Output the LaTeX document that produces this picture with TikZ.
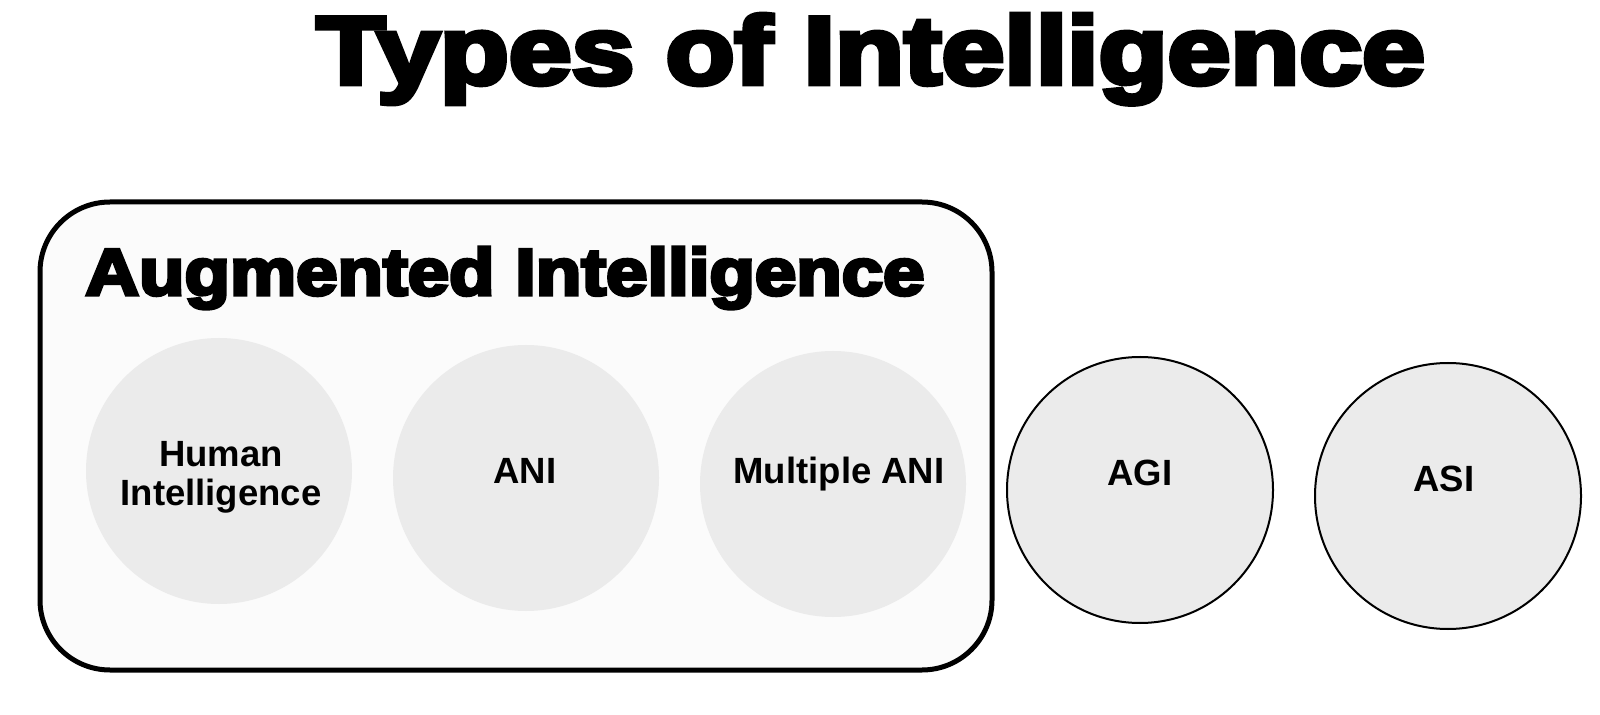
\documentclass[tikz,border=0pt]{standalone}
\usepackage{fontspec}
\usepackage{graphicx}
\setmainfont{Liberation Sans}
\newfontfamily\heavyfont[BoldFeatures={FakeBold=5}]{Liberation Sans}
\definecolor{panelfill}{HTML}{FBFBFB}
\definecolor{circfill}{HTML}{EBEBEB}
\tikzset{
  panel/.style={draw=black, line width=2.5pt, rounded corners=35pt, fill=panelfill, inner sep=0pt},
  innercirc/.style={circle, fill=circfill, minimum size=133pt, inner sep=0pt},
  outercirc/.style={circle, fill=circfill, draw=black, line width=1pt, minimum size=133pt, inner sep=0pt},
  lbl/.style={inner sep=0pt, font=\bfseries\fontsize{18.25pt}{19.5pt}\selectfont, text=black},
  heading/.style={inner sep=0pt, anchor=base west}
}
\begin{document}
\begin{tikzpicture}[x=0.5pt,y=-0.5pt]
\useasboundingbox (0,0) rectangle (1600,715);
\fill[white] (0,0) rectangle (1600,715);
% title
\node[heading] (title) at (316,84) {\resizebox{554pt}{35pt}{\heavyfont\bfseries Types of Intelligence}};
% augmented panel
\node[panel, minimum width=476pt, minimum height=234pt] (aug) at (516,436) {};
\node[heading] (augt) at (85,295) {\resizebox{419.5pt}{24pt}{\heavyfont\bfseries Augmented Intelligence}};
% circles
\node[innercirc] (hum) at (219,471) {};
\node[innercirc] (ani) at (526,478) {};
\node[innercirc] (mani) at (833,484) {};
\node[outercirc] (agi) at (1140,490) {};
\node[outercirc] (asi) at (1448,496) {};
% labels
\node[lbl, align=center] (humt) at (221,477) {Human\\Intelligence};
\node[lbl, anchor=base] (anit) at (525,484) {ANI};
\node[lbl, anchor=base] (manit) at (839,484) {Multiple ANI};
\node[lbl, anchor=base] (agit) at (1140,486) {AGI};
\node[lbl, anchor=base] (asit) at (1444,492) {ASI};
\end{tikzpicture}
\end{document}
